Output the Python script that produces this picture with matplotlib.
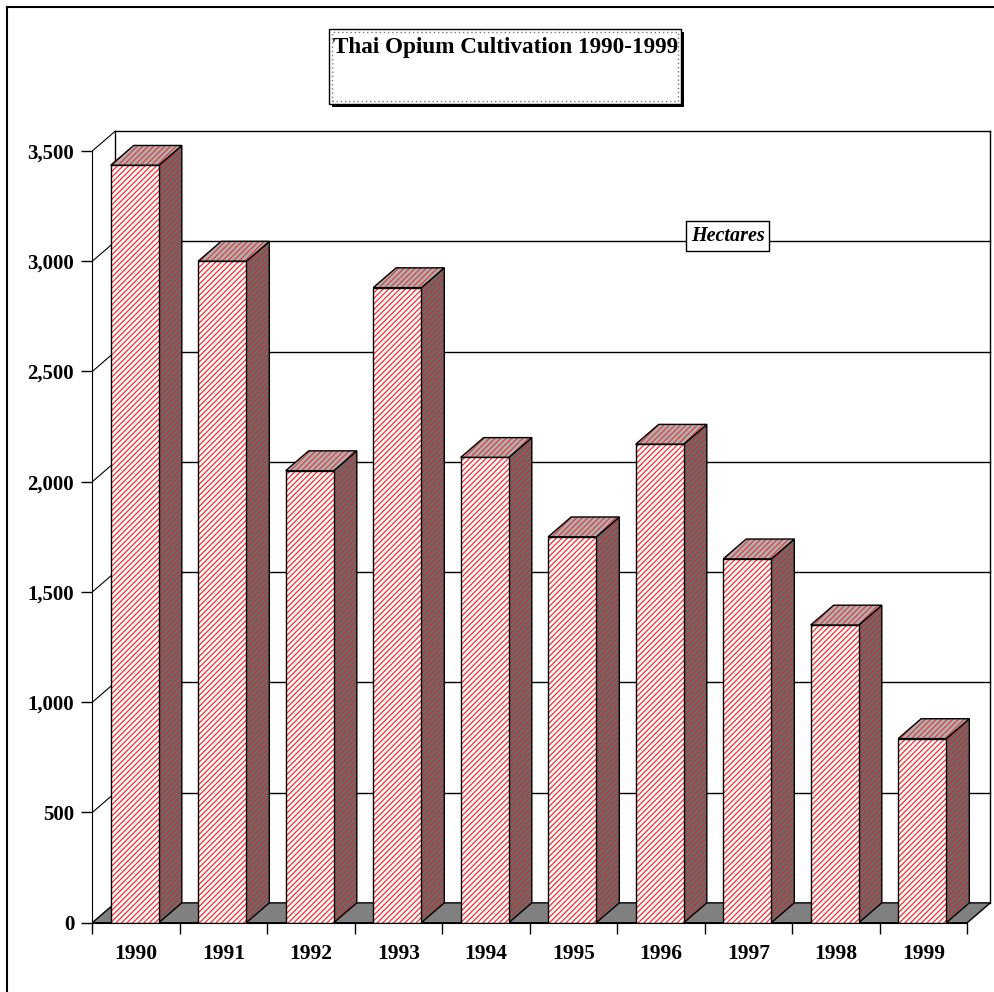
import matplotlib
matplotlib.use('Agg')
import matplotlib.pyplot as plt
import numpy as np
from matplotlib.lines import Line2D
from matplotlib.patches import Polygon, Rectangle

# data
years = ['1990', '1991', '1992', '1993', '1994', '1995', '1996', '1997', '1998', '1999']
hectares = [3435, 3000, 2050, 2880, 2110, 1750, 2170, 1650, 1350, 835]
y_ticks = [0, 500, 1000, 1500, 2000, 2500, 3000, 3500]
y_tick_labels = ['0', '500', '1,000', '1,500', '2,000', '2,500', '3,000', '3,500']

# 3d look: depth offset in data units, bar front face inside its slot
DX, DY = 0.263, 90
BAR_L, BAR_R = -0.29, 0.26
RED = '#ff2a2a'

plt.rcParams['font.family'] = ['Liberation Serif', 'DejaVu Serif']
plt.rcParams['hatch.linewidth'] = 0.9

W, H = 995, 992
fig = plt.figure(figsize=(W / 100, H / 100), dpi=100)
ax = fig.add_axes([92.3 / W, (H - 922.7) / H, 901.25 / W, 804.8 / H])
ax.set_xlim(-0.5, 9.8)
ax.set_ylim(0, 3650)
ax.patch.set_alpha(0)


def face(pts, base, z, hatch_col=RED):
    ax.add_patch(Polygon(pts, closed=True, facecolor=base, edgecolor='none', zorder=z))
    if hatch_col:
        ax.add_patch(Polygon(pts, closed=True, facecolor='none', edgecolor=hatch_col,
                             hatch='//////', lw=0, zorder=z))
    ax.add_patch(Polygon(pts, closed=True, facecolor='none', edgecolor='black',
                         lw=1, zorder=z, joinstyle='miter'))


n = len(years)
x0, x1 = -0.5, n - 0.5

# back wall + gridlines
top = y_ticks[-1]
ax.plot([x0 + DX, x0 + DX], [DY, top + DY], color='black', lw=1, zorder=1)
ax.plot([x1 + DX, x1 + DX], [DY, top + DY], color='black', lw=1, zorder=1)
for v in y_ticks[1:]:
    ax.plot([x0 + DX, x1 + DX], [v + DY, v + DY], color='black', lw=1, zorder=1)
    ax.plot([x0, x0 + DX], [v, v + DY], color='black', lw=0.8, zorder=1)

# floor
face([(x0, 0), (x1, 0), (x1 + DX, DY), (x0 + DX, DY)], '#808080', 2, hatch_col=None)

# bars
for i, v in enumerate(hectares):
    l, r = i + BAR_L, i + BAR_R
    face([(r, 0), (r + DX, DY), (r + DX, v + DY), (r, v)], '#6a6a6a', 3, '#c83232')
    face([(l, v), (r, v), (r + DX, v + DY), (l + DX, v + DY)], '#b0b0b0', 3, '#e04040')
    face([(l, 0), (r, 0), (r, v), (l, v)], 'white', 4)

# axes
for s in ['top', 'right']:
    ax.spines[s].set_visible(False)
ax.spines['left'].set_bounds(0, top)
ax.spines['bottom'].set_bounds(x0, x1)
ax.spines['left'].set_zorder(5)
ax.spines['bottom'].set_zorder(5)

ax.set_yticks(y_ticks, y_tick_labels)
ax.tick_params(axis='y', direction='out', length=8, width=1, pad=5, labelsize=15)
ax.set_xticks(np.arange(x0, x1 + 0.5, 1.0), [''] * (n + 1))
ax.set_xticks(np.arange(n), years, minor=True)
ax.tick_params(axis='x', which='major', direction='out', length=8, width=1)
ax.tick_params(axis='x', which='minor', length=0, pad=15, labelsize=15.5)
for lab in ax.get_yticklabels() + ax.get_xticklabels(minor=True):
    lab.set_fontweight('bold')

# units label on the back wall
ax.text(6.76, 3000 + DY + 25, 'Hectares', ha='center', va='center', fontsize=14.5,
        fontweight='bold', style='italic', zorder=6,
        bbox=dict(boxstyle='square,pad=0.25', facecolor='white', edgecolor='black', lw=1))

# title box
bx, by, bw, bh = 329 / W, 1 - 104 / H, 352 / W, 75 / H
fig.patches.append(Rectangle((bx + 3 / W, by - 3 / H), bw, bh, transform=fig.transFigure,
                             facecolor='black', edgecolor='none', zorder=0))
fig.patches.append(Rectangle((bx, by), bw, bh, transform=fig.transFigure,
                             facecolor='white', edgecolor='black', lw=1, zorder=1))
fig.patches.append(Rectangle((bx + 3 / W, by + 3 / H), bw - 6 / W, bh - 6 / H,
                             transform=fig.transFigure, facecolor='none',
                             edgecolor='#777777', lw=1, ls=(0, (1, 2)), zorder=2))
fig.text(333 / W, 1 - 48 / H, 'Thai Opium Cultivation 1990-1999', fontsize=16.7,
         fontweight='bold', ha='left', va='center')

# outer frame (only top and left edges show)
fig.lines.append(Line2D([7 / W, 7 / W], [0, 1 - 7 / H], transform=fig.transFigure,
                        color='black', lw=1.5))
fig.lines.append(Line2D([7 / W, 1], [1 - 7 / H, 1 - 7 / H], transform=fig.transFigure,
                        color='black', lw=1.5))

fig.savefig('out.png', dpi=100)
